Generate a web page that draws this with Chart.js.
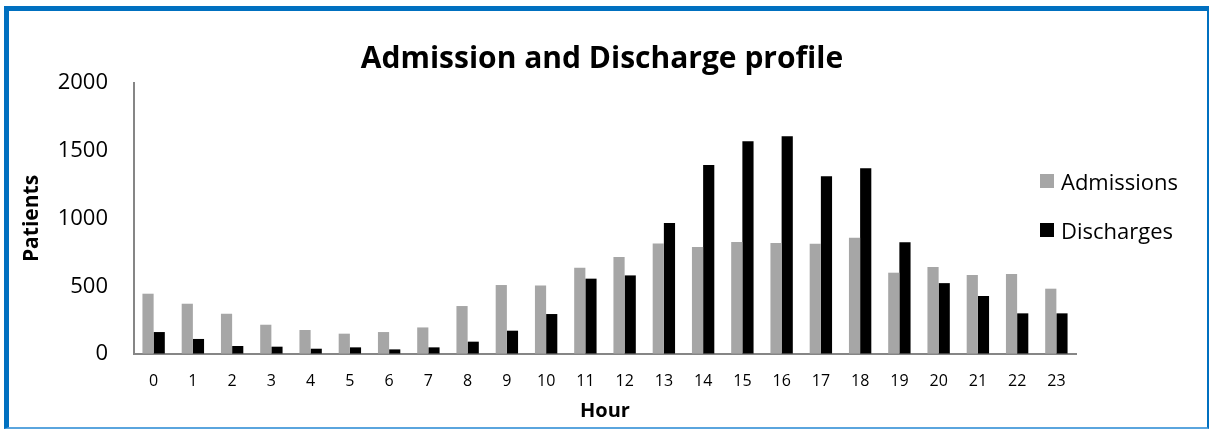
<!DOCTYPE html>
<html>
<head>
<meta charset="utf-8">
<script src="https://cdn.jsdelivr.net/npm/chart.js@4.4.1/dist/chart.umd.min.js"></script>
<style>
  html, body { margin: 0; padding: 0; background: #fff; overflow: hidden; }
  #wrap { position: relative; width: 1209px; height: 429px; }
  #frame {
    position: absolute; left: 4px; top: 6px; width: 1205px; height: 423px;
    box-sizing: border-box;
    border-left: 5px solid #0070C0; border-top: 5px solid #0070C0;
    border-right: 2px solid #0070C0; border-bottom: 2px solid #5AA5DE;
  }
  canvas { position: absolute; left: 0; top: 0; }
  .txt { position: absolute; font-family: "Open Sans", sans-serif; color: #000; white-space: nowrap; line-height: 1; }
  #title { left: 602px; top: 57px; transform: translate(-50%, -50%); font-size: 30px; font-weight: bold; }
  .leg { position: absolute; left: 1040px; display: flex; align-items: center; }
  .leg i { display: inline-block; width: 14px; height: 14px; margin-right: 7px; }
  .leg span { font-family: "Open Sans", sans-serif; font-size: 22px; line-height: 1; }
</style>
</head>
<body>
<div id="wrap">
  <div id="frame"></div>
  <canvas id="chart" width="1209" height="429"></canvas>
  <div id="title" class="txt">Admission and Discharge profile</div>
  <div id="legend"></div>
</div>
<script>
// Hour of day
const hours = ["0","1","2","3","4","5","6","7","8","9","10","11","12","13","14","15","16","17","18","19","20","21","22","23"];
// Patients admitted per hour
const admissions = [445, 371, 297, 216, 177, 150, 162, 196, 354, 509, 506, 637, 716, 816, 790, 827, 819, 814, 858, 600, 642, 583, 590, 482];
// Patients discharged per hour
const discharges = [162, 111, 59, 54, 39, 49, 34, 49, 91, 172, 295, 556, 580, 967, 1395, 1570, 1607, 1312, 1370, 824, 523, 428, 300, 300];
const yTicks = [0, 500, 1000, 1500, 2000];

const seriesNames = ["Admissions", "Discharges"];
const seriesColors = ["#A6A6A6", "#000000"];

// Legend entries
const legend = document.getElementById('legend');
const legendTops = [174, 223];
seriesNames.forEach((name, i) => {
  const row = document.createElement('div');
  row.className = 'leg';
  row.style.top = (legendTops[i] - 4) + 'px';
  row.innerHTML = '<i style="background:' + seriesColors[i] + '"></i><span>' + name + '</span>';
  legend.appendChild(row);
});

const axisColor = '#868686';

new Chart(document.getElementById('chart'), {
  type: 'bar',
  data: {
    labels: hours,
    datasets: [
      { label: seriesNames[0], data: admissions, backgroundColor: seriesColors[0] },
      { label: seriesNames[1], data: discharges, backgroundColor: seriesColors[1] }
    ]
  },
  options: {
    responsive: false,
    animation: false,
    events: [],
    datasets: { bar: { categoryPercentage: 0.57, barPercentage: 1.0 } },
    layout: { padding: { left: 0, right: 133, top: 83, bottom: 0 } },
    plugins: { legend: { display: false }, title: { display: false }, tooltip: { enabled: false } },
    scales: {
      x: {
        afterFit: s => { s.height = 75; },
        grid: { display: true, drawOnChartArea: false, drawTicks: false },
        border: { display: true, color: axisColor, width: 2 },
        ticks: { color: '#000', padding: 18, font: { family: 'Open Sans', size: 16 } },
        title: { display: true, text: 'Hour', color: '#000', padding: { top: 0, bottom: 6 },
                 font: { family: 'Open Sans', size: 20, weight: 'bold' } }
      },
      y: {
        min: 0, max: 2000,
        afterFit: s => { s.width = 134; },
        afterBuildTicks: s => { s.ticks = yTicks.map(v => ({ value: v })); },
        grid: { display: true, drawOnChartArea: false, drawTicks: false },
        border: { display: true, color: axisColor, width: 2 },
        ticks: { color: '#000', padding: 26, font: { family: 'Open Sans', size: 22 },
                 callback: v => String(v) },
        title: { display: true, text: 'Patients', color: '#000', padding: { top: 19, bottom: 0 },
                 font: { family: 'Open Sans', size: 21, weight: 'bold' } }
      }
    }
  }
});
</script>
</body>
</html>
